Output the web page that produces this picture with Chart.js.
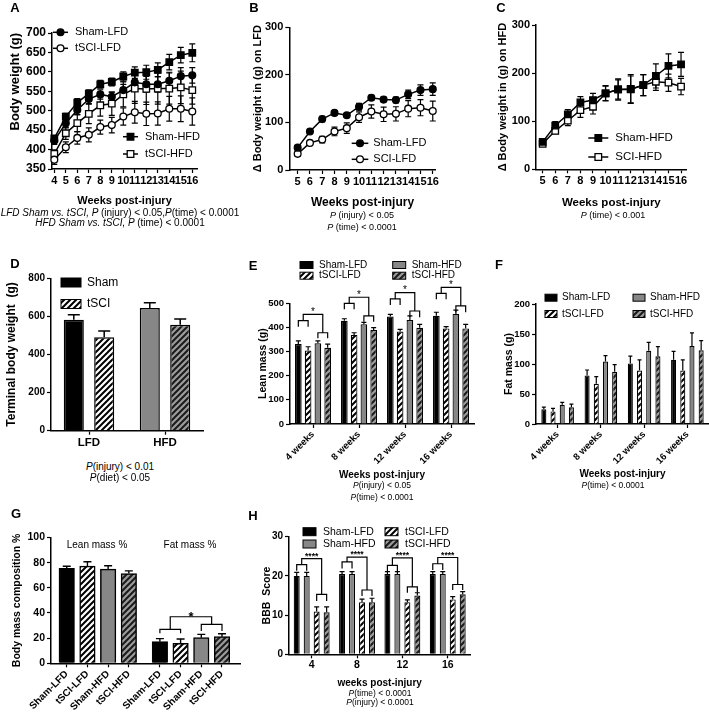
<!DOCTYPE html>
<html>
<head>
<meta charset="utf-8">
<script src="https://cdn.jsdelivr.net/npm/chart.js@4.4.1/dist/chart.umd.min.js"></script>
<style>
  body { margin: 0; background: #fff; }
  #fig { position: relative; width: 709px; height: 714px; overflow: hidden; font-family: "Liberation Sans", Arial, sans-serif; color: #000; }
  #fig canvas { position: absolute; }
  .t { position: absolute; transform: translate(-50%, -50%); white-space: nowrap; line-height: 1; }
</style>
</head>
<body>
<div id="fig"></div>
<script>
const FONT = '"Liberation Sans", Arial, sans-serif';
Chart.defaults.font.family = FONT;
Chart.defaults.color = '#000';

// ---- data ----
const weeksA = [4, 5, 6, 7, 8, 9, 10, 11, 12, 13, 14, 15, 16];
const shamLfdA = [423, 468, 502, 530, 542, 536, 553, 573, 568, 568, 577, 589, 591];
const shamLfdAErr = [10, 12, 12, 12, 12, 12, 15, 18, 20, 20, 22, 22, 20];
const tsciLfdA = [374, 406, 430, 438, 458, 463, 485, 496, 492, 493, 505, 505, 498];
const tsciLfdAErr = [12, 14, 16, 18, 18, 20, 22, 28, 30, 30, 32, 33, 35];
const shamHfdA = [429, 485, 521, 544, 568, 574, 588, 598, 599, 605, 625, 643, 649];
const shamHfdAErr = [6, 8, 10, 10, 10, 10, 12, 15, 18, 18, 20, 20, 23];
const tsciHfdA = [389, 442, 468, 492, 514, 518, 542, 557, 556, 557, 557, 560, 553];
const tsciHfdAErr = [10, 16, 22, 25, 28, 30, 32, 38, 40, 40, 40, 42, 36];

const weeksBC = [5, 6, 7, 8, 9, 10, 11, 12, 13, 14, 15, 16];
const shamLfdB = [47, 81, 107, 120, 115, 133, 152, 148, 147, 159, 168, 170];
const shamLfdBErr = [4, 4, 6, 4, 4, 7, 5, 5, 6, 9, 11, 13];
const sciLfdB = [34, 57, 64, 81, 88, 111, 123, 117, 118, 129, 131, 124];
const sciLfdBErr = [5, 5, 7, 9, 11, 11, 14, 15, 15, 17, 17, 21];
const shamHfdC = [57, 91, 114, 139, 144, 158, 166, 167, 175, 194, 215, 218];
const shamHfdCErr = [5, 8, 10, 12, 14, 16, 22, 30, 22, 25, 25, 25];
const sciHfdC = [53, 80, 101, 123, 130, 158, 166, 166, 175, 182, 180, 172];
const sciHfdCErr = [5, 6, 10, 15, 15, 15, 20, 28, 22, 18, 18, 17];

const diets = ['LFD', 'HFD'];
const shamD = [583, 644];
const shamDErr = [26, 27];
const tsciD = [490, 556];
const tsciDErr = [33, 31];

const timeCats = ['4 weeks', '8 weeks', '12 weeks', '16 weeks'];
const shamLfdE = [331, 428, 445, 448];
const shamLfdEErr = [13, 8, 9, 15];
const tsciLfdE = [304, 369, 383, 396];
const tsciLfdEErr = [16, 9, 9, 7];
const shamHfdE = [334, 413, 431, 456];
const shamHfdEErr = [10, 8, 17, 16];
const tsciHfdE = [316, 389, 399, 396];
const tsciHfdEErr = [15, 10, 14, 17];
// significance brackets: [left top, left legs, right top, right legs, joining top]
const brkE = [[428, 403, 378, 355, 454], [500, 475, 448, 424, 525], [518, 493, 468, 442, 544], [541, 517, 489, 463, 566]];

const shamLfdF = [24.5, 81, 101, 107];
const shamLfdFErr = [3.5, 9, 12, 14];
const tsciLfdF = [21, 67, 89, 89];
const tsciLfdFErr = [5, 12, 18, 18];
const shamHfdF = [32, 104, 122, 130];
const shamHfdFErr = [4, 10, 14, 22];
const tsciHfdF = [28, 87, 113, 123];
const tsciHfdFErr = [5, 12, 16, 16];

const groupsG = ['Sham-LFD', 'tSCI-LFD', 'Sham-HFD', 'tSCI-HFD'];
const leanPct = [75.4, 77.2, 74.9, 71.4];
const leanPctErr = [1.8, 3.5, 2.6, 2.1];
const fatPct = [17.2, 15.9, 20.4, 21.2];
const fatPctErr = [2.4, 3.4, 2.6, 2.3];
const brkG = [27, 23.8, 31, 25.7, 37];

const weeksH = ['4', '8', '12', '16'];
const shamLfdH = [20, 20.5, 20.5, 20.5];
const shamLfdHErr = [0.9, 0.6, 0.6, 0.6];
const shamHfdH = [20, 20.5, 20.5, 20.5];
const shamHfdHErr = [0.9, 0.6, 0.6, 0.6];
const tsciLfdH = [10.9, 13.3, 13.3, 14];
const tsciLfdHErr = [1.2, 0.8, 0.6, 0.7];
const tsciHfdH = [10.7, 13.3, 15, 15.3];
const tsciHfdHErr = [1.4, 1.0, 0.7, 0.7];
const brkH = [[22.9, 21.3, 15.3, 13.6, 24.4], [23.6, 21.9, 16.4, 14.9, 24.8], [22.7, 21.2, 17.2, 15.7, 24.6], [23.1, 21.5, 17.8, 16.4, 24.7]];

// ---- helpers ----
const fig = document.getElementById('fig');
const GRAY = '#878787';

function pts(xs, ys) { return xs.map((x, i) => ({ x, y: ys[i] })); }

function canvasAt(b) {
  const c = document.createElement('canvas');
  c.width = b[2]; c.height = b[3];
  c.style.left = b[0] + 'px'; c.style.top = b[1] + 'px';
  fig.appendChild(c);
  return c;
}

function hatch(cv, bg, fg) {
  const t = document.createElement('canvas');
  t.width = 6; t.height = 6;
  const g = t.getContext('2d');
  g.fillStyle = bg; g.fillRect(0, 0, 6, 6);
  g.strokeStyle = fg; g.lineWidth = 2;
  g.beginPath();
  g.moveTo(-2, 8); g.lineTo(8, -2);
  g.moveTo(-2, 2); g.lineTo(2, -2);
  g.moveTo(4, 8); g.lineTo(8, 4);
  g.stroke();
  return cv.getContext('2d').createPattern(t, 'repeat');
}

function txt(x, y, html, size, extra) {
  const d = document.createElement('div');
  d.className = 't';
  d.style.left = x + 'px'; d.style.top = y + 'px'; d.style.fontSize = size + 'px';
  if (extra) d.style.cssText += extra;
  d.innerHTML = html;
  fig.appendChild(d);
}

function yScale(b, a, o) {
  const lh = o.ts * 1.2;
  return {
    type: 'linear', min: o.min, max: o.max,
    afterFit: sc => { sc.width = a[0] - b[0]; sc.paddingTop = 0; sc.paddingBottom = 0; },
    ticks: { stepSize: o.step, font: { size: o.fs, weight: 'bold' }, padding: 2 },
    grid: { drawOnChartArea: false, tickLength: 4, tickColor: '#000', tickWidth: 1.2 },
    border: { color: '#000', width: 1.5 },
    title: { display: true, text: o.title, align: o.align || 'center', font: { size: o.ts, weight: 'bold' },
      padding: { top: o.tx - b[0] - lh / 2, bottom: 0 } }
  };
}

function xScale(b, a, o) {
  const s = {
    afterFit: sc => { sc.height = b[1] + b[3] - a[3]; sc.paddingLeft = 0; sc.paddingRight = 0; },
    ticks: { autoSkip: false, minRotation: o.rot || 0, maxRotation: o.rot || 0, font: { size: o.fs, weight: 'bold' }, padding: 1 },
    grid: { offset: false, drawOnChartArea: false, tickLength: 4, tickColor: '#000', tickWidth: 1.2 },
    border: { color: '#000', width: 1.5 },
    title: { display: false }
  };
  if (o.title) {
    const lh = o.ts * 1.2;
    s.title = { display: true, text: o.title, font: { size: o.ts, weight: 'bold' },
      padding: { top: 0, bottom: b[1] + b[3] - o.ty - lh / 2 } };
  }
  return s;
}

function opts(b, a, scales, plugins) {
  return {
    responsive: false, animation: false, events: [],
    layout: { padding: { left: 0, top: a[1] - b[1], right: b[0] + b[2] - a[2], bottom: 0 } },
    scales,
    plugins: Object.assign({ legend: { display: false }, tooltip: { enabled: false } }, plugins)
  };
}

function lineDs(label, xs, ys, err, shape, fill) {
  return { label, data: pts(xs, ys), err, cap: 6, borderColor: '#000', borderWidth: 1.5,
    pointStyle: shape, pointRadius: shape === 'rect' ? 4.6 : 3.4, pointBackgroundColor: fill,
    pointBorderColor: '#000', pointBorderWidth: 1.3, clip: false, tension: 0 };
}

function barDs(label, ys, err, bg, extra) {
  return Object.assign({ label, data: ys, err, backgroundColor: bg, borderColor: '#000', borderWidth: 1.2 }, extra);
}

// error bars (both ways for lines, upward for bars)
function drawErr(chart, kind) {
  const ctx = chart.ctx, ys = chart.scales.y;
  chart.data.datasets.forEach((ds, i) => {
    if (!ds.err) return;
    const meta = chart.getDatasetMeta(i);
    if (meta.type !== kind) return;
    ctx.save();
    ctx.strokeStyle = '#000'; ctx.lineWidth = ds.errW || 1.2;
    meta.data.forEach((el, j) => {
      const d = ds.data[j];
      const v = typeof d === 'object' ? d.y : d;
      const e = ds.err[j];
      const top = ys.getPixelForValue(v + e);
      const bot = ys.getPixelForValue(kind === 'bar' ? v : v - e);
      const c = (ds.cap || 6) / 2;
      ctx.beginPath();
      ctx.moveTo(el.x, bot); ctx.lineTo(el.x, top);
      ctx.moveTo(el.x - c, top); ctx.lineTo(el.x + c, top);
      if (kind === 'line') { ctx.moveTo(el.x - c, bot); ctx.lineTo(el.x + c, bot); }
      ctx.stroke();
    });
    ctx.restore();
  });
}
const errPlugin = {
  id: 'err',
  beforeDatasetsDraw(chart) { drawErr(chart, 'line'); },
  afterDatasetsDraw(chart) { drawErr(chart, 'bar'); }
};

// significance brackets
const brkPlugin = {
  id: 'brk',
  afterDatasetsDraw(chart, args, o) {
    if (!o.sets) return;
    const ctx = chart.ctx, ys = chart.scales.y;
    const X = p => chart.getDatasetMeta(p[0]).data[p[1]].x;
    ctx.save();
    ctx.strokeStyle = '#000'; ctx.fillStyle = '#000'; ctx.lineWidth = 1.2;
    ctx.font = (o.bold ? 'bold ' : '') + o.size + 'px ' + FONT;
    ctx.textAlign = 'center'; ctx.textBaseline = 'bottom';
    o.sets.forEach(s => {
      const [xa, xb, xc, xd] = s.pts.map(X);
      const [h1, l1, h2, l2, h3] = s.h.map(v => ys.getPixelForValue(v));
      const m1 = (xa + xb) / 2, m2 = (xc + xd) / 2;
      ctx.beginPath();
      ctx.moveTo(xa, l1); ctx.lineTo(xa, h1); ctx.lineTo(xb, h1); ctx.lineTo(xb, l1);
      ctx.moveTo(xc, l2); ctx.lineTo(xc, h2); ctx.lineTo(xd, h2); ctx.lineTo(xd, l2);
      ctx.moveTo(m1, h1); ctx.lineTo(m1, h3); ctx.lineTo(m2, h3); ctx.lineTo(m2, h2);
      ctx.stroke();
      ctx.fillText(o.label, (m1 + m2) / 2, h3 + (o.dy || 0));
    });
    ctx.restore();
  }
};

// legends placed by hand (page coordinates)
const legPlugin = {
  id: 'leg',
  afterDraw(chart, args, o) {
    if (!o.items) return;
    const ctx = chart.ctx;
    ctx.save();
    ctx.font = o.size + 'px ' + FONT;
    ctx.textBaseline = 'middle'; ctx.textAlign = 'left';
    o.items.forEach(it => {
      const ds = chart.data.datasets[it[0]];
      const x = it[1] - o.ox, y = it[2] - o.oy;
      if (o.kind === 'line') {
        ctx.strokeStyle = '#000'; ctx.lineWidth = 1.5;
        ctx.beginPath(); ctx.moveTo(x, y); ctx.lineTo(x + o.w, y); ctx.stroke();
        ctx.fillStyle = ds.pointBackgroundColor; ctx.lineWidth = 1.3;
        const cx = x + o.w / 2;
        ctx.beginPath();
        if (ds.pointStyle === 'rect') { const h = 3.3; ctx.rect(cx - h, y - h, 2 * h, 2 * h); }
        else ctx.arc(cx, y, 3.4, 0, Math.PI * 2);
        ctx.fill(); ctx.stroke();
      } else {
        const bg = Array.isArray(ds.backgroundColor) ? ds.backgroundColor[0] : ds.backgroundColor;
        ctx.fillStyle = bg; ctx.fillRect(x, y - o.h / 2, o.w, o.h);
        ctx.strokeStyle = '#000'; ctx.lineWidth = 1; ctx.strokeRect(x, y - o.h / 2, o.w, o.h);
      }
      ctx.fillStyle = '#000';
      ctx.fillText(ds.label, x + o.w + o.gap, y);
    });
    ctx.restore();
  }
};

const PL = [errPlugin, brkPlugin, legPlugin];

// ---- A ----
{
  const b = [0, 0, 225, 210], a = [52, 33, 197, 169];
  const x = Object.assign(xScale(b, a, { fs: 11, title: 'Weeks post-injury', ts: 11, ty: 201 }),
    { type: 'linear', min: 3.8, max: 16.41, afterBuildTicks: sc => { sc.ticks = weeksA.map(v => ({ value: v })); } });
  new Chart(canvasAt(b), {
    type: 'line',
    data: { datasets: [
      lineDs('Sham-LFD', weeksA, shamLfdA, shamLfdAErr, 'circle', '#000'),
      lineDs('tSCI-LFD', weeksA, tsciLfdA, tsciLfdAErr, 'circle', '#fff'),
      lineDs('Sham-HFD', weeksA, shamHfdA, shamHfdAErr, 'rect', '#000'),
      lineDs('tSCI-HFD', weeksA, tsciHfdA, tsciHfdAErr, 'rect', '#fff')
    ] },
    options: opts(b, a, {
      x,
      y: yScale(b, a, { min: 350, max: 700, step: 50, fs: 12, title: 'Body weight (g)', ts: 13, tx: 15, align: 'end' })
    }, { leg: { kind: 'line', ox: b[0], oy: b[1], size: 11, w: 15, gap: 7,
      items: [[0, 53, 32.3], [1, 53, 48.3], [2, 123, 136.7], [3, 123, 154]] } }),
    plugins: PL
  });
}

// ---- B ----
{
  const b = [232, 0, 226, 210], a = [289.3, 27.3, 435.7, 170];
  const x = Object.assign(xScale(b, a, { fs: 11, title: 'Weeks post-injury', ts: 12, ty: 203 }),
    { type: 'linear', min: 4.32, max: 16.24, afterBuildTicks: sc => { sc.ticks = weeksBC.map(v => ({ value: v })); } });
  new Chart(canvasAt(b), {
    type: 'line',
    data: { datasets: [
      lineDs('Sham-LFD', weeksBC, shamLfdB, shamLfdBErr, 'circle', '#000'),
      lineDs('SCI-LFD', weeksBC, sciLfdB, sciLfdBErr, 'circle', '#fff')
    ] },
    options: opts(b, a, {
      x,
      y: yScale(b, a, { min: 0, max: 300, step: 100, fs: 11, title: '\u0394 Body weight in (g) on LFD', ts: 11, tx: 258 })
    }, { leg: { kind: 'line', ox: b[0], oy: b[1], size: 11, w: 16.6, gap: 5,
      items: [[0, 351.7, 143.3], [1, 351.7, 159.3]] } }),
    plugins: PL
  });
}

// ---- C ----
{
  const b = [490, 0, 219, 210], a = [536, 25, 686.7, 169.3];
  const x = Object.assign(xScale(b, a, { fs: 11, title: 'Weeks post-injury', ts: 11.5, ty: 203 }),
    { type: 'linear', min: 4.47, max: 16.45, afterBuildTicks: sc => { sc.ticks = weeksBC.map(v => ({ value: v })); } });
  new Chart(canvasAt(b), {
    type: 'line',
    data: { datasets: [
      lineDs('Sham-HFD', weeksBC, shamHfdC, shamHfdCErr, 'rect', '#000'),
      lineDs('SCI-HFD', weeksBC, sciHfdC, sciHfdCErr, 'rect', '#fff')
    ] },
    options: opts(b, a, {
      x,
      y: yScale(b, a, { min: 0, max: 300, step: 100, fs: 11, title: '\u0394 Body weight in (g) on HFD', ts: 11, tx: 503 })
    }, { leg: { kind: 'line', ox: b[0], oy: b[1], size: 11.5, w: 20, gap: 7,
      items: [[0, 588.3, 138], [1, 588.3, 157]] } }),
    plugins: PL
  });
}

// ---- D ----
{
  const b = [0, 250, 225, 206], a = [51, 278.3, 203, 430.7];
  const cv = canvasAt(b);
  const hw = hatch(cv, '#fff', '#000'), hg = hatch(cv, '#9b9b9b', '#1a1a1a');
  const bar = { categoryPercentage: 0.8, barPercentage: 0.66, cap: 12, errW: 1.5, borderWidth: 1.5 };
  new Chart(cv, {
    type: 'bar',
    data: { labels: diets, datasets: [
      barDs('Sham', shamD, shamDErr, ['#000', GRAY], bar),
      barDs('tSCI', tsciD, tsciDErr, [hw, hg], bar)
    ] },
    options: opts(b, a, {
      x: Object.assign(xScale(b, a, { fs: 11.5 }), { type: 'category', offset: true }),
      y: yScale(b, a, { min: 0, max: 800, step: 200, fs: 10, title: 'Terminal body weight  (g)', ts: 12, tx: 12 })
    }, { leg: { kind: 'box', ox: b[0], oy: b[1], size: 12, w: 20, h: 9, gap: 6,
      items: [[0, 61, 282.5], [1, 61, 304]] } }),
    plugins: PL
  });
}

// ---- E ----
{
  const b = [250, 255, 227, 227], a = [290, 303.3, 474, 424];
  const cv = canvasAt(b);
  const hw = hatch(cv, '#fff', '#000'), hg = hatch(cv, '#9b9b9b', '#1a1a1a');
  const bar = { categoryPercentage: 0.85, barPercentage: 0.68, cap: 5 };
  new Chart(cv, {
    type: 'bar',
    data: { labels: timeCats, datasets: [
      barDs('Sham-LFD', shamLfdE, shamLfdEErr, '#000', bar),
      barDs('tSCI-LFD', tsciLfdE, tsciLfdEErr, hw, bar),
      barDs('Sham-HFD', shamHfdE, shamHfdEErr, GRAY, bar),
      barDs('tSCI-HFD', tsciHfdE, tsciHfdEErr, hg, bar)
    ] },
    options: opts(b, a, {
      x: Object.assign(xScale(b, a, { fs: 9.5, rot: 45, title: 'Weeks post-injury', ts: 10, ty: 475 }), { type: 'category', offset: true }),
      y: yScale(b, a, { min: 0, max: 500, step: 100, fs: 9.5, title: 'Lean mass (g)', ts: 10.5, tx: 263 })
    }, {
      leg: { kind: 'box', ox: b[0], oy: b[1], size: 10, w: 13, h: 7, gap: 6,
        items: [[0, 300, 265], [1, 300, 275.7], [2, 392.7, 265], [3, 392.7, 275.7]] },
      brk: { label: '*', size: 10, dy: 3, sets: brkE.map((h, j) => ({ pts: [[0, j], [1, j], [2, j], [3, j]], h })) }
    }),
    plugins: PL
  });
}

// ---- F ----
{
  const b = [495, 280, 214, 202], a = [536, 304, 709, 424];
  const cv = canvasAt(b);
  const hw = hatch(cv, '#fff', '#000'), hg = hatch(cv, '#9b9b9b', '#1a1a1a');
  const bar = { categoryPercentage: 0.85, barPercentage: 0.55, cap: 4 };
  new Chart(cv, {
    type: 'bar',
    data: { labels: timeCats, datasets: [
      barDs('Sham-LFD', shamLfdF, shamLfdFErr, '#000', bar),
      barDs('tSCI-LFD', tsciLfdF, tsciLfdFErr, hw, bar),
      barDs('Sham-HFD', shamHfdF, shamHfdFErr, GRAY, bar),
      barDs('tSCI-HFD', tsciHfdF, tsciHfdFErr, hg, bar)
    ] },
    options: opts(b, a, {
      x: Object.assign(xScale(b, a, { fs: 9.5, rot: 45, title: 'Weeks post-injury', ts: 10, ty: 474 }), { type: 'category', offset: true }),
      y: yScale(b, a, { min: 0, max: 200, step: 50, fs: 9.5, title: 'Fat mass (g)', ts: 10.5, tx: 509 })
    }, {
      leg: { kind: 'box', ox: b[0], oy: b[1], size: 10, w: 12, h: 7, gap: 5,
        items: [[0, 545, 297.7], [1, 545, 314], [2, 633, 297.7], [3, 633, 314]] }
    }),
    plugins: PL
  });
}

// ---- G ----
{
  const b = [0, 515, 245, 199], a = [51, 537.5, 240, 663.3];
  const cv = canvasAt(b);
  const hw = hatch(cv, '#fff', '#000'), hg = hatch(cv, '#9b9b9b', '#1a1a1a');
  const labels = groupsG.concat(groupsG);
  const vals = leanPct.concat(fatPct), errs = leanPctErr.concat(fatPctErr);
  const gap = 0.5; // extra space between the lean and fat groups
  const xs = vals.map((v, i) => i + (i >= leanPct.length ? gap : 0));
  const x = Object.assign(xScale(b, a, { fs: 10, rot: 45 }), {
    type: 'linear', offset: false, min: -0.76, max: 8.37,
    afterBuildTicks: sc => { sc.ticks = xs.map(v => ({ value: v })); }
  });
  x.ticks.callback = (v, i) => labels[i];
  new Chart(cv, {
    type: 'bar',
    data: { datasets: [
      barDs('Body mass composition', pts(xs, vals), errs,
        ['#000', hw, GRAY, hg, '#000', hw, GRAY, hg], { barThickness: 15.5, cap: 8, errW: 1.4, borderWidth: 1.5 })
    ] },
    options: opts(b, a, {
      x,
      y: yScale(b, a, { min: 0, max: 100, step: 20, fs: 10.5, title: 'Body mass composition %', ts: 10.5, tx: 17 })
    }, {
      brk: { label: '*', size: 13, bold: true, dy: 7, sets: [{ pts: [[0, 4], [0, 5], [0, 6], [0, 7]], h: brkG }] }
    }),
    plugins: PL
  });
}

// ---- H ----
{
  const b = [255, 515, 222, 175], a = [289, 536.7, 470.4, 654.3];
  const cv = canvasAt(b);
  const hw = hatch(cv, '#fff', '#000'), hg = hatch(cv, '#9b9b9b', '#1a1a1a');
  const bar = { categoryPercentage: 0.88, barPercentage: 0.6, cap: 5 };
  new Chart(cv, {
    type: 'bar',
    data: { labels: weeksH, datasets: [
      barDs('Sham-LFD', shamLfdH, shamLfdHErr, '#000', bar),
      barDs('Sham-HFD', shamHfdH, shamHfdHErr, GRAY, bar),
      barDs('tSCI-LFD', tsciLfdH, tsciLfdHErr, hw, bar),
      barDs('tSCI-HFD', tsciHfdH, tsciHfdHErr, hg, bar)
    ] },
    options: opts(b, a, {
      x: Object.assign(xScale(b, a, { fs: 10.5, title: 'weeks post-injury', ts: 10, ty: 683 }), { type: 'category', offset: true }),
      y: yScale(b, a, { min: 0, max: 30, step: 10, fs: 10, title: 'BBB  Score', ts: 10.5, tx: 266.7 })
    }, {
      leg: { kind: 'box', ox: b[0], oy: b[1], size: 10.5, w: 13, h: 8, gap: 7,
        items: [[0, 303, 531.7], [1, 303, 544], [2, 385, 531.7], [3, 385, 544]] },
      brk: { label: '****', size: 8.5, bold: true, dy: 2, sets: brkH.map((h, j) => ({ pts: [[0, j], [1, j], [2, j], [3, j]], h })) }
    }),
    plugins: PL
  });
}

// ---- panel letters and statistics ----
const L = 'font-weight:bold;';
txt(15, 7, 'A', 13, L); txt(254, 7, 'B', 13, L); txt(501, 7, 'C', 13, L);
txt(15, 263, 'D', 13, L); txt(253, 265, 'E', 13, L); txt(499, 264, 'F', 13, L);
txt(16, 513, 'G', 13, L); txt(253, 515, 'H', 13, L);

txt(120, 213, '<i>LFD Sham vs. tSCI, P </i>(injury) &lt; 0.05,<i>P</i>(time) &lt; 0.0001', 10);
txt(120, 223, '<i>HFD Sham vs. tSCI, P </i>(time) &lt; 0.0001', 10);
txt(362, 215, '<i>P</i> (injury) &lt; 0.05', 9);
txt(362, 227, '<i>P</i> (time) &lt; 0.0001', 9);
txt(613, 215, '<i>P</i> (time) &lt; 0.001', 9);
txt(120, 467, '<i>P</i>(injury) &lt; 0.01', 10);
txt(120, 477.5, '<i>P</i>(diet) &lt; 0.05', 10);
txt(382, 485, '<i>P</i>(injury) &lt; 0.05', 8.5);
txt(382, 497, '<i>P</i>(time) &lt; 0.0001', 8.5);
txt(613, 485, '<i>P</i>(time) &lt; 0.0001', 8.5);
txt(97, 545, 'Lean mass %', 10);
txt(190, 545, 'Fat mass %', 10);
txt(380, 693.3, '<i>P</i>(time) &lt; 0.0001', 8.5);
txt(380, 701.7, '<i>P</i>(injury) &lt; 0.0001', 8.5);
</script>
</body>
</html>
